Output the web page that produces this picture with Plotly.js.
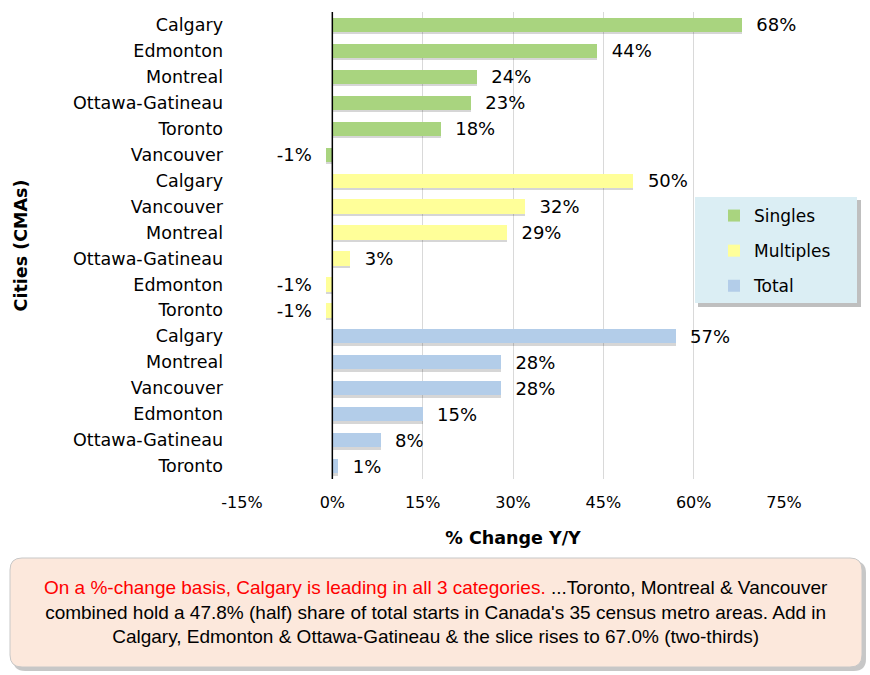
<!DOCTYPE html>
<html><head><meta charset="utf-8">
<script src="https://cdn.plot.ly/plotly-3.0.1.min.js"></script>
<style>html,body{margin:0;padding:0;background:#fff}#chart{width:870px;height:675px}</style>
</head><body><div id="chart"></div>
<script>
// ---- data ----
const singlesCities=["Calgary","Edmonton","Montreal","Ottawa-Gatineau","Toronto","Vancouver"];
const singlesValues=[68,44,24,23,18,-1];
const multiplesCities=["Calgary","Vancouver","Montreal","Ottawa-Gatineau","Edmonton","Toronto"];
const multiplesValues=[50,32,29,3,-1,-1];
const totalCities=["Calgary","Montreal","Vancouver","Edmonton","Ottawa-Gatineau","Toronto"];
const totalValues=[57,28,28,15,8,1];
const seriesNames=["Singles","Multiples","Total"];
const xTickVals=[-15,0,15,30,45,60,75];
const xTickText=["-15%","0%","15%","30%","45%","60%","75%"];
const xTitle="% Change Y/Y";
const yTitle="Cities (CMAs)";
const noteRed="On a %-change basis, Calgary is leading in all 3 categories.";
const noteLine1=" ...Toronto, Montreal & Vancouver";
const noteLine2="combined hold a 47.8% (half) share of total starts in Canada's 35 census metro areas. Add in";
const noteLine3="Calgary, Edmonton & Ottawa-Gatineau & the slice rises to 67.0% (two-thirds)";

// ---- build ----
const colors=["#a9d47f","#ffff99","#b3cde9"];
const groups=[[singlesCities,singlesValues],[multiplesCities,multiplesValues],[totalCities,totalValues]];
const W=870,H=675,L=242,R=86,T=12,B=196;
const PW=W-L-R, PH=H-T-B;
const px=p=>(p-L)/PW, py=p=>(H-B-p)/PH;
const NB="\u00a0";
let allLabels=[], traces=[], shadows=[];
let idx=0;
groups.forEach((g,gi)=>{
  const ys=g[0].map((c,i)=>idx+i);
  idx+=g[0].length;
  allLabels=allLabels.concat(g[0]);
  shadows.push({type:'bar',orientation:'h',x:g[1],y:ys.map(v=>v+0.09),width:0.55,
    marker:{color:'rgba(0,0,0,0.16)'},showlegend:false,hoverinfo:'skip'});
  traces.push({type:'bar',orientation:'h',name:seriesNames[gi],legendgroup:seriesNames[gi],
    x:g[1],y:ys,width:0.55,marker:{color:colors[gi]},
    text:g[1].map(v=>v>=0?NB+NB+v+'%':v+'%'+NB+NB),textposition:'outside',
    outsidetextfont:{family:'DejaVu Sans',size:18,color:'#000'},
    constraintext:'none',cliponaxis:false});
});
const tickvals=allLabels.map((c,i)=>i);

function roundRect(x0,y0,x1,y1,r){
  const X=p=>px(p).toFixed(5), Y=p=>py(p).toFixed(5);
  return `M${X(x0+r)},${Y(y0)} L${X(x1-r)},${Y(y0)} Q${X(x1)},${Y(y0)} ${X(x1)},${Y(y0+r)} `+
    `L${X(x1)},${Y(y1-r)} Q${X(x1)},${Y(y1)} ${X(x1-r)},${Y(y1)} L${X(x0+r)},${Y(y1)} `+
    `Q${X(x0)},${Y(y1)} ${X(x0)},${Y(y1-r)} L${X(x0)},${Y(y0+r)} Q${X(x0)},${Y(y0)} ${X(x0+r)},${Y(y0)} Z`;
}

const layout={
  width:W,height:H,margin:{l:L,r:R,t:T,b:B},
  paper_bgcolor:'#fff',plot_bgcolor:'#fff',
  barmode:'overlay',bargap:0,
  font:{family:'DejaVu Sans',size:16,color:'#000'},
  xaxis:{range:[-15,75],tickvals:xTickVals,ticktext:xTickText,showgrid:true,gridcolor:'#d9d9d9',gridwidth:1,
    zeroline:false,showline:false,ticks:'',ticklabelstandoff:12,
    tickfont:{family:'DejaVu Sans',size:16},
    title:{text:'<b>'+xTitle+'</b>',font:{family:'DejaVu Sans',size:17.5},standoff:20}},
  yaxis:{range:[17.5,-0.5],tickvals:tickvals,ticktext:allLabels,showgrid:false,zeroline:false,showline:false,ticks:'',
    ticklabelstandoff:18,tickfont:{family:'DejaVu Sans',size:17.5},
    title:{text:'<b>'+yTitle+'</b>',font:{family:'DejaVu Sans',size:17.5},standoff:40}},
  showlegend:true,
  legend:{x:px(714),y:py(198),xanchor:'left',yanchor:'top',bgcolor:'rgba(0,0,0,0)',
    font:{family:'DejaVu Sans',size:17},tracegroupgap:10,traceorder:'grouped',itemclick:false},
  shapes:[
    {type:'line',xref:'x',yref:'paper',x0:0,x1:0,y0:0,y1:1,line:{color:'#000',width:1.5},layer:'above'},
    {type:'rect',xref:'paper',yref:'paper',x0:px(698),x1:px(861),y0:py(200),y1:py(307),fillcolor:'rgba(0,0,0,0.25)',line:{width:0},layer:'above'},
    {type:'rect',xref:'paper',yref:'paper',x0:px(695),x1:px(857),y0:py(197),y1:py(303),fillcolor:'#dbeef4',line:{width:0},layer:'above'},
    {type:'path',xref:'paper',yref:'paper',path:roundRect(13,561,866,671,12),fillcolor:'rgba(0,0,0,0.22)',line:{width:0},layer:'above'},
    {type:'path',xref:'paper',yref:'paper',path:roundRect(10,558,862,667,12),fillcolor:'#fce8dc',line:{color:'#c8c8c8',width:1},layer:'above'}
  ],
  annotations:[{xref:'paper',yref:'paper',x:px(436),y:py(612),xanchor:'center',yanchor:'middle',showarrow:false,
    align:'center',font:{family:'Liberation Sans Narrow, Liberation Sans',size:19,color:'#000'},
    text:'<span style="color:#ff0000">'+noteRed+'</span>'+noteLine1+'<br>'+noteLine2+'<br>'+noteLine3}]
};
Plotly.newPlot('chart',shadows.concat(traces),layout,{displayModeBar:false,staticPlot:true});
</script></body></html>
